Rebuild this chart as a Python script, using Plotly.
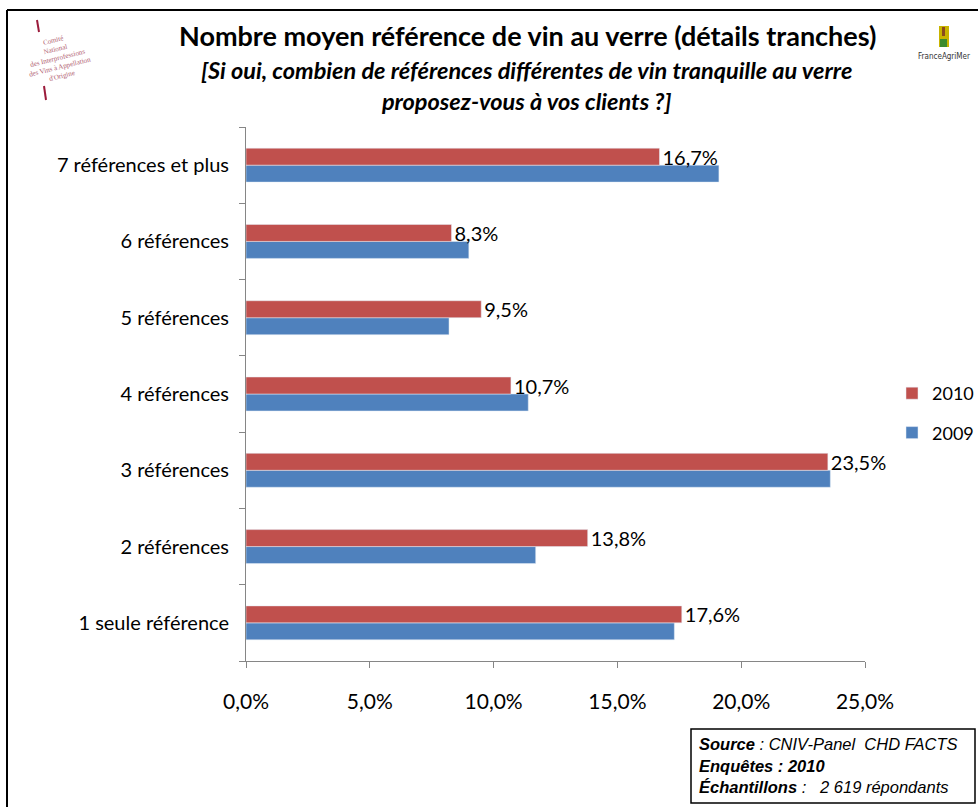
import plotly.graph_objects as go

# Data
categories = ["1 seule référence", "2 références", "3 références", "4 références",
              "5 références", "6 références", "7 références et plus"]
values_2010 = [17.6, 13.8, 23.5, 10.7, 9.5, 8.3, 16.7]
values_2009 = [17.3, 11.7, 23.6, 11.4, 8.2, 9.0, 19.1]
x_ticks = [0, 5, 10, 15, 20, 25]
x_tick_labels = ["0,0%", "5,0%", "10,0%", "15,0%", "20,0%", "25,0%"]
source_lines = [
    "<b><i>Source</i></b><i> : CNIV-Panel  CHD FACTS</i>",
    "<b><i>Enquêtes : 2010</i></b>",
    "<b><i>Échantillons</i></b><i> :   2 619 répondants</i>",
]

W, H = 978, 807
L, R, T, B = 246, 865, 127, 661
FONT = "Lato"


def px(x):
    return (x - L) / (R - L)


def py(y):
    return (B - y) / (B - T)


fig = go.Figure()
fig.add_trace(go.Bar(
    y=categories, x=values_2009, orientation="h", name="2009",
    legendgroup="a", legendrank=2, marker=dict(color="#4f81bd"),
))
fig.add_trace(go.Bar(
    y=categories, x=values_2010, orientation="h", name="2010",
    legendgroup="b", legendrank=1, marker=dict(color="#c0504d"),
    text=[f"{v:.1f}%".replace(".", ",") for v in values_2010],
    textposition="outside", cliponaxis=False, constraintext="none",
    textfont=dict(family=FONT, size=20, color="black"),
))

fig.update_layout(
    width=W, height=H,
    margin=dict(l=L, r=W - R, t=T, b=H - B, pad=0, autoexpand=False),
    paper_bgcolor="white", plot_bgcolor="white",
    barmode="group", bargap=0.555, bargroupgap=0,
    font=dict(family=FONT, size=20, color="black"),
    showlegend=True,
    legend=dict(
        x=px(892), y=py(375), xanchor="left", yanchor="top",
        traceorder="grouped", tracegroupgap=13,
        font=dict(family=FONT, size=18), itemwidth=30,
    ),
    xaxis=dict(
        range=[0, 25], tickvals=x_ticks, ticktext=x_tick_labels,
        showgrid=False, zeroline=False, showline=True, linecolor="#868686",
        ticks="outside", ticklen=6, tickcolor="#868686",
        ticklabelstandoff=16, tickfont=dict(size=21), fixedrange=True,
    ),
    yaxis=dict(
        categoryorder="array", categoryarray=categories,
        showgrid=False, showline=True, linecolor="#868686",
        ticks="outside", ticklen=6, tickcolor="#868686", tickson="boundaries",
        ticklabelstandoff=12, tickfont=dict(size=20), fixedrange=True,
    ),
)

# Titles
fig.add_annotation(
    x=px(527), y=py(36), xref="paper", yref="paper", showarrow=False,
    xanchor="center", yanchor="middle",
    text="<b>Nombre moyen référence de vin au verre (détails tranches)</b>",
    font=dict(family=FONT, size=27, color="black"),
)
fig.add_annotation(
    x=px(526), y=py(85), xref="paper", yref="paper", showarrow=False,
    xanchor="center", yanchor="middle",
    text="<b><i>[Si oui, combien de références différentes de vin tranquille au verre"
         "<br>proposez-vous à vos clients ?]</i></b>",
    font=dict(family=FONT, size=23.5, color="black"), align="center",
)

# Outer frame (top and left)
fig.add_shape(type="line", xref="paper", yref="paper",
              x0=px(7), x1=px(990), y0=py(10), y1=py(10),
              line=dict(color="black", width=2))
fig.add_shape(type="line", xref="paper", yref="paper",
              x0=px(7), x1=px(7), y0=py(10), y1=py(820),
              line=dict(color="black", width=2))

# Left logo (CNIV)
fig.add_shape(type="line", xref="paper", yref="paper",
              x0=px(37), x1=px(39), y0=py(20), y1=py(32),
              line=dict(color="#9b1b3b", width=2))
fig.add_shape(type="line", xref="paper", yref="paper",
              x0=px(44), x1=px(46), y0=py(86), y1=py(100),
              line=dict(color="#9b1b3b", width=2))
fig.add_annotation(
    x=px(58), y=py(58), xref="paper", yref="paper", showarrow=False,
    xanchor="center", yanchor="middle",
    text="Comité<br>National<br>des Interprofessions<br>des Vins à Appellation<br>d'Origine",
    font=dict(family="Liberation Serif", size=7, color="#b0606f"),
    align="center", textangle=-14,
)

# Right logo (FranceAgriMer)
fig.add_shape(type="rect", xref="paper", yref="paper",
              x0=px(939), x1=px(949), y0=py(47), y1=py(26),
              fillcolor="#c8b400", line=dict(width=0))
fig.add_shape(type="rect", xref="paper", yref="paper",
              x0=px(940), x1=px(947), y0=py(47), y1=py(39),
              fillcolor="#3c8a2e", line=dict(width=0))
fig.add_shape(type="rect", xref="paper", yref="paper",
              x0=px(942), x1=px(945), y0=py(36), y1=py(27),
              fillcolor="#8a4a1e", line=dict(width=0))
fig.add_annotation(
    x=px(944), y=py(57), xref="paper", yref="paper", showarrow=False,
    xanchor="center", yanchor="middle",
    text="FranceAgriMer",
    font=dict(family="Liberation Sans Narrow, DejaVu Sans Condensed", size=8, color="#333333"),
)

# Source box
fig.add_shape(type="rect", xref="paper", yref="paper",
              x0=px(691), x1=px(975), y0=py(729), y1=py(803),
              line=dict(color="black", width=1.5), fillcolor="white")
for i, line in enumerate(source_lines):
    fig.add_annotation(
        x=px(697), y=py(744 + 21.5 * i), xref="paper", yref="paper", showarrow=False,
        xanchor="left", yanchor="middle", align="left", text=line,
        font=dict(family="Liberation Sans", size=16.5, color="black"),
    )

fig.write_html("out.html", config={"displayModeBar": False},
               post_script="document.body.style.margin='0';document.body.style.overflow='hidden';")
